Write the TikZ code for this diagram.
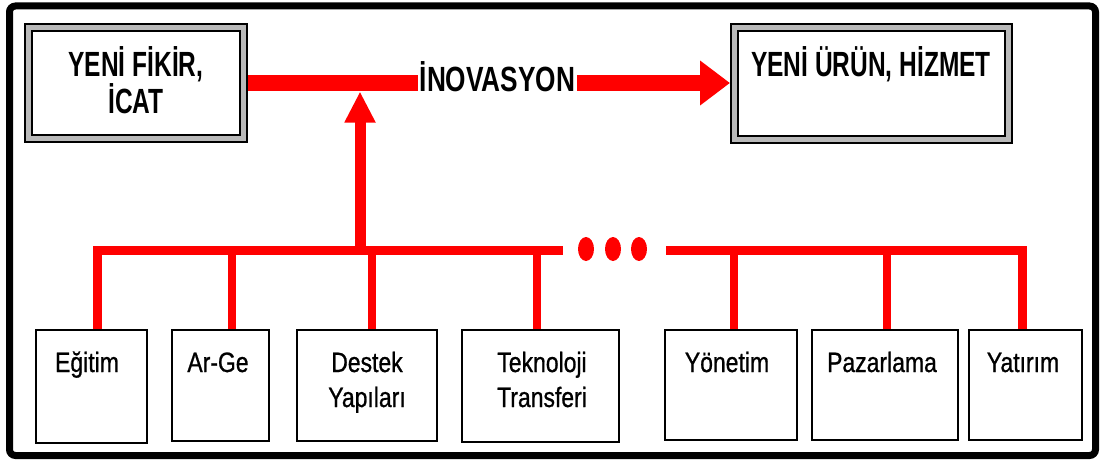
\documentclass[tikz,border=0pt]{standalone}
\usepackage{fontspec}
\setmainfont{Liberation Sans}
\newfontfamily\topfont{Liberation Sans}[FakeStretch=0.70]
\newfontfamily\midfont{Liberation Sans}[FakeStretch=0.75]
\newfontfamily\botfont{Liberation Sans}[FakeStretch=0.82,FakeBold=0.8]
\usetikzlibrary{arrows.meta}
\begin{document}
\begin{tikzpicture}[x=1pt,y=-1pt,
  dblbox/.style={draw=black, line width=2.2pt, double=gray!55, double distance=5pt,
    fill=white, inner sep=0pt, outer sep=4.7pt},
  smallbox/.style={draw=black, line width=1.8pt, fill=white, inner sep=0pt, outer sep=0.9pt},
  toplabel/.style={font=\topfont\bfseries\fontsize{35}{36}\selectfont, inner sep=1pt, align=center, anchor=base},
  botlabel/.style={font=\botfont\fontsize{28}{35}\selectfont, inner sep=0pt, align=center, anchor=base},
  redline/.style={draw=red, line width=16pt},
  busline/.style={draw=red, line width=9pt, line join=miter},
  dropline/.style={draw=red, line width=8.5pt},
  dotmark/.style={fill=red}
]
\useasboundingbox (0,0) rectangle (1105,460);
% outer frame
\draw[line width=7pt, rounded corners=6pt] (9.5,6) rectangle (1095.5,455.5);

% top boxes
\node[dblbox, minimum width=214.6pt, minimum height=110.6pt] (fikir) at (136,83) {};
\node[dblbox, minimum width=273.6pt, minimum height=111.6pt] (urun) at (871.5,83.5) {};
\node[toplabel] (fikirA) at (136,77) {YENİ FİKİR,};
\node[toplabel] (fikirB) at (136,113) {İCAT};
\node[toplabel] (urunA) at (871,77) {YENİ ÜRÜN, HİZMET};
\node[toplabel, font=\midfont\bfseries\fontsize{35}{36}\selectfont, inner sep=2pt] (inov) at (497.5,92) {İNOVASYON};

% bottom boxes
\node[smallbox, minimum width=111pt, minimum height=113pt] (egitim) at (91.5,386.5) {};
\node[smallbox, minimum width=97pt, minimum height=111pt] (arge) at (220.5,385.5) {};
\node[smallbox, minimum width=140pt, minimum height=111pt] (destek) at (367,385.5) {};
\node[smallbox, minimum width=157pt, minimum height=112pt] (tekno) at (540.5,386) {};
\node[smallbox, minimum width=132pt, minimum height=110pt] (yonetim) at (731,385) {};
\node[smallbox, minimum width=146pt, minimum height=110pt] (pazar) at (885,385) {};
\node[smallbox, minimum width=113pt, minimum height=110pt] (yatirim) at (1025.5,385) {};

\node[botlabel] (egitimL) at (87,372) {Eğitim};
\node[botlabel] (argeL) at (218,372) {Ar-Ge};
\node[botlabel] (destekL) at (367,407) {Destek\\Yapıları};
\node[botlabel] (teknoL) at (542,407) {Teknoloji\\Transferi};
\node[botlabel] (yonetimL) at (727,372) {Yönetim};
\node[botlabel] (pazarL) at (882,372) {Pazarlama};
\node[botlabel] (yatirimL) at (1023,372) {Yatırım};

% bus coordinates
\coordinate (b1) at (97,250);
\coordinate (b2) at (232,250);
\coordinate (b3) at (372,250);
\coordinate (b4) at (537,250);
\coordinate (b5) at (734,250);
\coordinate (b6) at (887,250);
\coordinate (b7) at (1022,250);
\coordinate (busL) at (563,250);
\coordinate (busR) at (666,250);
\coordinate (bj) at (360,250);
\coordinate (vt) at (360,91.5);

% top red connectors
\draw[redline] (fikir.east) -- (fikir.east -| inov.west);
\draw[redline, -{Triangle[length=30pt,width=43pt]}] (fikir.east -| inov.east) -- (fikir.east -| urun.west);
\draw[draw=red, line width=11pt, -{Triangle[length=31pt,width=29pt]}] (bj) -- (vt);

% bus
\draw[busline] (b1 |- egitim.north) -- (b1) -- (busL);
\draw[busline] (busR) -- (b7) -- (b7 |- yatirim.north);
\draw[dropline] (b2) -- (b2 |- arge.north);
\draw[dropline] (b3) -- (b3 |- destek.north);
\draw[dropline] (b4) -- (b4 |- tekno.north);
\draw[dropline] (b5) -- (b5 |- yonetim.north);
\draw[dropline] (b6) -- (b6 |- pazar.north);

% dots
\fill[dotmark] (586,249) ellipse [x radius=8, y radius=12];
\fill[dotmark] (613,249) ellipse [x radius=8, y radius=12];
\fill[dotmark] (639,249) ellipse [x radius=8, y radius=12];
\end{tikzpicture}
\end{document}
